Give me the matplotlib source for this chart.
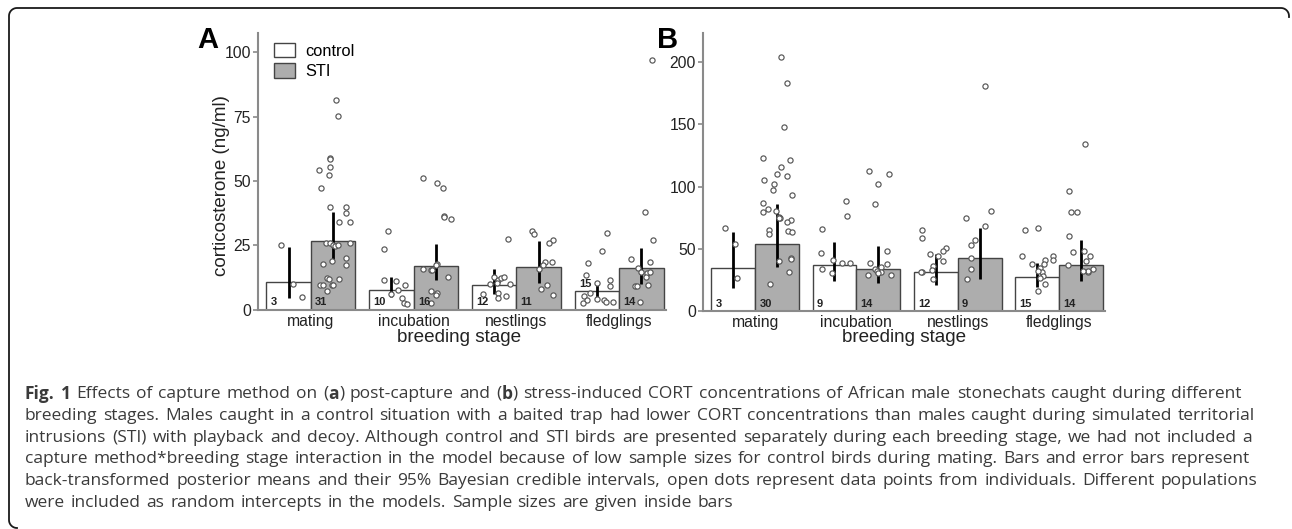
import numpy as np
import matplotlib.pyplot as plt
from matplotlib.patches import Patch
from matplotlib.lines import Line2D

plt.rcParams['font.family'] = ['Liberation Sans', 'DejaVu Sans']

stages = ['mating', 'incubation', 'nestlings', 'fledglings']
groups = ['control', 'STI']

# (a) post-capture CORT: posterior means, 95% CrI, sample sizes
a_mean = [[10.5, 7.7, 9.6, 7.1], [26.8, 17.1, 16.7, 16.0]]
a_lo = [[4.4, 4.8, 6.1, 3.9], [18.7, 11.5, 10.4, 10.1]]
a_hi = [[24.2, 12.6, 15.6, 9.5], [37.9, 25.6, 26.8, 24.1]]
a_n = [[3, 10, 12, 15], [31, 16, 11, 14]]

# (b) stress-induced CORT
b_mean = [[34.5, 37.1, 31.0, 27.5], [53.6, 33.9, 42.5, 36.9]]
b_lo = [[18.3, 24.2, 20.5, 19.4], [35.0, 22.3, 26.1, 24.2]]
b_hi = [[63.3, 55.4, 46.0, 38.8], [85.6, 52.0, 66.8, 57.1]]
b_n = [[3, 9, 12, 15], [30, 14, 9, 14]]

# individual measurements (ng/ml), by group then stage
a_points = [
    [[25.0, 10.0, 4.8],
     [30.7, 23.6, 11.5, 11.0, 9.5, 6.2, 7.4, 4.5, 2.6, 2.3],
     [27.4, 12.5, 11.5, 12.1, 12.6, 10.1, 10.2, 10.0, 6.1, 6.4, 4.5, 5.1],
     [29.6, 22.7, 17.9, 13.4, 10.4, 11.4, 9.1, 6.4, 5.3, 3.8, 2.7, 4.2, 3.5, 3.1, 2.9]],
    [[81.6, 75.1, 58.8, 58.5, 55.5, 54.2, 52.4, 47.1, 39.7, 39.7, 37.6, 33.9, 33.9,
      25.8, 25.7, 25.0, 24.8, 25.2, 25.7, 20.1, 17.6, 17.4, 18.7, 12.3, 11.7, 11.7,
      9.5, 9.5, 9.6, 9.6, 7.3],
     [51.2, 49.3, 47.3, 36.3, 35.8, 35.1, 17.6, 15.8, 15.4, 12.5, 7.3, 6.5, 5.8, 2.5,
      17.3, 15.2],
     [30.7, 29.2, 27.2, 25.8, 18.4, 18.3, 17.3, 15.7, 9.6, 7.8, 5.8],
     [38.1, 27.1, 19.6, 18.3, 16.3, 14.5, 14.0, 14.7, 12.5, 9.1, 9.1, 9.6, 3.1, 97.0]],
]
a_jitter = [
    [[-0.07, 0.045, 0.13],
     [-0.035, -0.07, -0.075, 0.04, 0.13, 0.0, 0.06, 0.10, 0.12, 0.15],
     [0.13, 0.0, 0.04, 0.07, 0.10, -0.04, 0.03, 0.155, -0.11, 0.04, 0.04, 0.11],
     [0.10, 0.05, -0.09, -0.11, 0.0, 0.13, 0.13, -0.065, -0.13, -0.10, -0.135, 0.0,
      0.07, 0.09, 0.155]],
    [[0.03, 0.05, -0.03, -0.03, -0.035, -0.14, -0.045, -0.12, -0.03, 0.12, 0.12, 0.06,
      0.16, -0.07, -0.03, 0.0, 0.02, 0.045, 0.16, 0.12, -0.10, 0.12, -0.01, -0.06,
      -0.045, 0.06, -0.13, -0.10, -0.015, 0.0, -0.06],
     [-0.13, 0.01, 0.07, 0.08, 0.08, 0.15, 0.01, -0.13, -0.045, 0.12, -0.05, 0.015,
      0.0, -0.05, 0.0, -0.04],
     [-0.07, -0.05, 0.14, 0.10, 0.06, 0.13, 0.04, 0.0, 0.085, 0.025, 0.14],
     [0.03, 0.11, -0.10, 0.085, -0.03, 0.0, 0.055, 0.085, 0.045, -0.06, -0.04, 0.065,
      -0.01, 0.10]],
]

b_points = [
    [[66.5, 53.8, 26.9],
     [65.7, 46.8, 33.6, 30.4, 40.9, 38.5, 38.8, 88.6, 76.4],
     [65.4, 58.4, 45.8, 44.4, 50.9, 47.9, 35.8, 33.1, 31.5, 31.2, 39.8, 25.8],
     [64.9, 66.5, 43.9, 38.0, 41.2, 37.7, 43.9, 40.6, 34.2, 31.0, 28.0, 21.3, 16.4,
      26.4, 31.8]],
    [[203.8, 183.3, 147.5, 123.0, 120.9, 115.5, 110.1, 108.5, 105.5, 102.0, 97.2, 93.4,
      86.7, 82.1, 79.9, 80.5, 75.4, 75.1, 73.2, 71.6, 65.1, 61.9, 64.1, 63.5, 42.3,
      42.0, 40.4, 31.0, 21.5, 75.0],
     [112.3, 110.1, 101.8, 85.9, 48.4, 38.8, 37.4, 33.9, 32.0, 35.0, 31.5, 30.4, 29.3,
      29.1],
     [180.9, 80.2, 74.6, 68.6, 56.8, 53.3, 42.8, 33.9, 25.6],
     [133.8, 96.1, 79.4, 79.7, 60.3, 47.4, 48.5, 44.4, 37.1, 39.8, 31.5, 33.4, 32.0,
      31.8]],
]
b_jitter = [
    [[-0.085, 0.015, 0.035],
     [-0.12, -0.13, -0.12, -0.025, -0.01, 0.07, 0.15, 0.11, 0.12],
     [-0.135, -0.135, -0.055, 0.025, 0.10, 0.075, -0.025, -0.035, -0.135, -0.145,
      0.07, -0.025],
     [-0.115, 0.01, -0.145, -0.05, 0.08, 0.07, 0.16, 0.16, 0.03, 0.045, 0.06, 0.08,
      0.01, 0.03, 0.005]],
    [[0.04, 0.10, 0.07, -0.14, 0.125, 0.035, 0.0, 0.10, -0.13, -0.035, -0.045, 0.145,
      -0.14, -0.085, -0.14, -0.015, 0.02, 0.03, 0.135, 0.10, -0.08, -0.08, 0.105,
      0.145, 0.14, 0.14, 0.015, 0.12, -0.07, 0.015],
     [-0.09, 0.11, -0.005, -0.035, 0.09, -0.085, 0.09, -0.03, -0.01, 0.025, 0.025,
      0.0, -0.10, 0.125],
     [0.055, 0.11, -0.13, 0.05, -0.05, -0.08, -0.08, -0.08, -0.12],
     [0.045, -0.12, -0.10, -0.035, -0.12, -0.08, 0.035, 0.09, -0.13, 0.05, 0.07, 0.12,
      0.075, 0.02]],
]

a_yticks = [0, 25, 50, 75, 100]
b_yticks = [0, 50, 100, 150, 200]

W, H = 1292, 529
fig = plt.figure(figsize=(W / 100, H / 100), dpi=100)

bar_w = 0.433
fills = ['white', '#adadad']
ink = '#222222'
axis_grey = '#8a8a8a'


def panel(rect, ylim, yticks, mean, lo, hi, n, pts, jit, lifted=()):
    ax = fig.add_axes(rect)
    x = np.arange(len(stages))
    for g in range(2):
        xc = x + (g - 0.5) * bar_w
        ax.bar(xc, mean[g], width=bar_w, color=fills[g], edgecolor='#444444',
               linewidth=1.0, zorder=1)
        ax.vlines(xc, lo[g], hi[g], color='black', linewidth=2.0, zorder=2)
        for s in range(len(stages)):
            ax.scatter(xc[s] + np.array(jit[g][s]), pts[g][s], s=14,
                       facecolor='white', edgecolor='#555555', linewidth=0.85,
                       zorder=3)
            y0 = mean[g][s] if (g, s) in lifted else 0
            ax.annotate(str(n[g][s]), (xc[s] - bar_w / 2, y0),
                        xytext=(3, 1.5), textcoords='offset points',
                        ha='left', va='bottom', fontsize=8,
                        fontweight='bold', color=ink, zorder=4)
    ax.set_xlim(-0.515, 3.455)
    ax.set_ylim(*ylim)
    ax.set_xticks(x)
    ax.set_xticklabels(stages)
    ax.set_yticks(yticks)
    ax.tick_params(axis='x', length=0, pad=3, labelsize=11.3, labelcolor=ink)
    ax.tick_params(axis='y', length=3.5, width=1.2, color=axis_grey, pad=1.5,
                   labelsize=11.3, labelcolor=ink)
    for side in ['top', 'right']:
        ax.spines[side].set_visible(False)
    for side in ['left', 'bottom']:
        ax.spines[side].set_color(axis_grey)
        ax.spines[side].set_linewidth(1.5)
    ax.patch.set_alpha(0)
    return ax


ax_a = panel([258 / W, 1 - 309.5 / H, 408 / W, 276.5 / H], (0, 107.5), a_yticks,
             a_mean, a_lo, a_hi, a_n, a_points, a_jitter, lifted={(0, 3)})
ax_b = panel([703 / W, 1 - 311 / H, 402 / W, 278 / H], (0, 223.3), b_yticks,
             b_mean, b_lo, b_hi, b_n, b_points, b_jitter)

handles = [Patch(facecolor=fills[g], edgecolor='#444444', linewidth=1.0,
                 label=groups[g]) for g in range(2)]
ax_a.legend(handles=handles, loc='upper left', bbox_to_anchor=(0.015, 1.0),
            frameon=False, fontsize=11.8, handlelength=1.3, handleheight=0.95,
            handletextpad=0.6, labelspacing=0.3, borderaxespad=0.2)

fig.text(197 / W, 1 - 48 / H, 'A', fontsize=21, fontweight='bold', color='black',
         va='baseline')
fig.text(657 / W, 1 - 48 / H, 'B', fontsize=21, fontweight='bold', color='black',
         va='baseline')
fig.text(221 / W, 1 - 186 / H, 'corticosterone (ng/ml)', rotation=90,
         fontsize=13.5, color=ink, ha='center', va='center')
for xc in (459, 904):
    fig.text(xc / W, 1 - 338 / H, 'breeding stage', fontsize=13.6, color=ink,
             ha='center', va='center')

# outline of the figure box: top edge and left edge with rounded corners
r = 8
t = np.linspace(0, np.pi / 2, 12)
bx = np.concatenate([[1289], 1281 + r * np.cos(t), 17 - r * np.sin(t),
                     [9], 17 - r * np.cos(t)])
by = np.concatenate([[17], 16 - r * np.sin(t), 16 - r * np.cos(t), [520],
                     520 + r * np.sin(t)])
fig.add_artist(Line2D(bx / W, 1 - by / H, color='#1a1a1a', linewidth=1.3,
                      transform=fig.transFigure))

# caption, set word by word so the word spacing can be opened up a little
cap_font = ['Open Sans', 'DejaVu Sans']
cap_color = '#3a3a3a'
cap_size = 12.5
caption = [
    [('Fig. 1', 'bold'), (' Effects of capture method on (', 'normal'), ('a', 'bold'),
     (') post-capture and (', 'normal'), ('b', 'bold'),
     (') stress-induced CORT concentrations of African male stonechats caught during different', 'normal')],
    [('breeding stages. Males caught in a control situation with a baited trap had lower CORT concentrations than males caught during simulated territorial', 'normal')],
    [('intrusions (STI) with playback and decoy. Although control and STI birds are presented separately during each breeding stage, we had not included a', 'normal')],
    [('capture method*breeding stage interaction in the model because of low sample sizes for control birds during mating. Bars and error bars represent', 'normal')],
    [('back-transformed posterior means and their 95% Bayesian credible intervals, open dots represent data points from individuals. Different populations', 'normal')],
    [('were included as random intercepts in the models. Sample sizes are given inside bars', 'normal')],
]
renderer = fig.canvas.get_renderer()


def word_width(word, wt):
    t_ = fig.text(0, 0, word, family=cap_font, fontsize=cap_size, fontweight=wt)
    w = t_.get_window_extent(renderer).width
    t_.remove()
    return w


# spacing chosen so the fourth line runs from x=25 to x=1250
ref = caption[3][0][0].split(' ')
space = (1225 - sum(word_width(w_, 'normal') for w_ in ref)) / (len(ref) - 1)

for i, line in enumerate(caption):
    x = 25
    y = 394 + i * 21.8
    for txt, wt in line:
        for j, part in enumerate(txt.split(' ')):
            if j > 0:
                x += space
            if part:
                t_ = fig.text(x / W, 1 - y / H, part, family=cap_font,
                              fontsize=cap_size, fontweight=wt, color=cap_color,
                              va='center', ha='left')
                x += t_.get_window_extent(renderer).width

fig.savefig('out.png', dpi=100)
